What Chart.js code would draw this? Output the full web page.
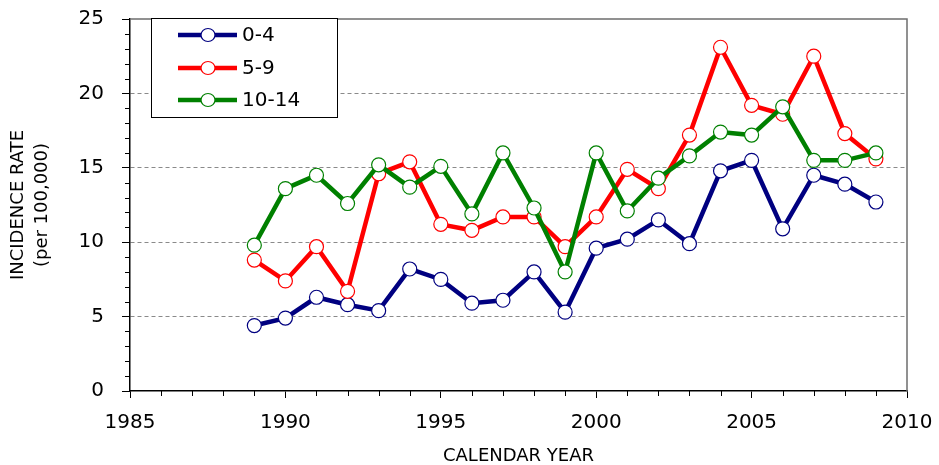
<!DOCTYPE html>
<html><head><meta charset="utf-8">
<script src="https://cdn.jsdelivr.net/npm/chart.js@4.4.1/dist/chart.umd.min.js"></script>
<style>html,body{margin:0;padding:0;background:#fff;}canvas{display:block;}</style>
</head><body>
<canvas id="c" width="939" height="465"></canvas>
<script>
const years = [1989,1990,1991,1992,1993,1994,1995,1996,1997,1998,1999,2000,2001,2002,2003,2004,2005,2006,2007,2008,2009];
const rate0to4 = [4.4,4.9,6.3,5.8,5.4,8.2,7.5,5.9,6.1,8.0,5.3,9.6,10.2,11.5,9.9,14.8,15.5,10.9,14.5,13.9,12.7];
const rate5to9 = [8.8,7.4,9.7,6.7,14.6,15.4,11.2,10.8,11.7,11.7,9.7,11.7,14.9,13.6,17.2,23.1,19.2,18.6,22.5,17.3,15.6];
const rate10to14 = [9.8,13.6,14.5,12.6,15.2,13.7,15.1,11.9,16.0,12.3,8.0,16.0,12.1,14.3,15.8,17.4,17.2,19.1,15.5,15.5,16.0];
const seriesLabels = ['0-4','5-9','10-14'];
const seriesColors = ['#000080','#ff0000','#008000'];
const xTitle = 'CALENDAR YEAR';
const yTitle = ['INCIDENCE RATE','(per 100,000)'];
const FONT = "'DejaVu Sans', sans-serif";

const toPoints = arr => years.map((x,i)=>({x:x,y:arr[i]}));
const seriesValues = [rate0to4, rate5to9, rate10to14];

const datasets = seriesValues.map((arr,i)=>({
  label: seriesLabels[i],
  data: toPoints(arr),
  borderColor: seriesColors[i],
  backgroundColor: '#ffffff',
  borderWidth: 4.5,
  pointRadius: 7,
  pointBorderWidth: 1.2,
  pointBorderColor: seriesColors[i],
  pointBackgroundColor: '#ffffff',
  tension: 0,
  order: 3 - i
}));

const noPad = s => { s.paddingTop = 0; s.paddingBottom = 0; s.paddingLeft = 0; s.paddingRight = 0; };

const extras = {
  id: 'extras',
  beforeDatasetsDraw(chart){
    const {ctx, chartArea:a, scales} = chart;
    ctx.save();
    ctx.strokeStyle = '#6e6e6e'; ctx.lineWidth = 1.5;
    ctx.beginPath();
    ctx.moveTo(a.left, a.top); ctx.lineTo(a.right, a.top); ctx.lineTo(a.right, a.bottom);
    ctx.stroke();
    ctx.strokeStyle = '#000'; ctx.lineWidth = 1;
    const y = scales.y, x = scales.x;
    ctx.beginPath();
    for (let v = y.min; v <= y.max; v++) {
      if (v % 5 === 0) continue;
      const py = Math.round(y.getPixelForValue(v)) + 0.5;
      ctx.moveTo(a.left - 5, py); ctx.lineTo(a.left, py);
    }
    for (let v = x.min; v <= x.max; v++) {
      if (v % 5 === 0) continue;
      const px = Math.round(x.getPixelForValue(v)) + 0.5;
      ctx.moveTo(px, a.bottom); ctx.lineTo(px, a.bottom + 5);
    }
    ctx.stroke();
    ctx.restore();
  },
  afterDraw(chart){
    const {ctx} = chart;
    ctx.save();
    const bx = 151, by = 18, bw = 186, bh = 99;
    ctx.fillStyle = '#fff';
    ctx.fillRect(bx, by, bw, bh);
    ctx.strokeStyle = '#000'; ctx.lineWidth = 1;
    ctx.strokeRect(bx + 0.5, by + 0.5, bw, bh);
    const rows = [35, 68, 100];
    chart.data.datasets.forEach((ds, i) => {
      const ry = rows[i];
      ctx.strokeStyle = ds.borderColor; ctx.lineWidth = 4.5;
      ctx.beginPath(); ctx.moveTo(178, ry); ctx.lineTo(237, ry); ctx.stroke();
      ctx.beginPath(); ctx.ellipse(208, ry, 7, 6.5, 0, 0, Math.PI*2);
      ctx.fillStyle = '#fff'; ctx.fill();
      ctx.lineWidth = 1.2; ctx.strokeStyle = ds.borderColor; ctx.stroke();
      ctx.fillStyle = '#000';
      ctx.font = "20px " + FONT;
      ctx.textBaseline = 'middle'; ctx.textAlign = 'left';
      ctx.fillText(ds.label, 242, ry + 1);
    });
    ctx.restore();
  }
};

new Chart(document.getElementById('c'), {
  type: 'line',
  data: { datasets },
  plugins: [extras],
  options: {
    responsive: false,
    animation: false,
    devicePixelRatio: 1,
    layout: { padding: { top: 19, right: 32, bottom: 0, left: 0 } },
    plugins: { legend: { display: false }, tooltip: { enabled: false } },
    scales: {
      x: {
        type: 'linear', min: 1985, max: 2010,
        afterFit(s){ s.height = 74; noPad(s); },
        ticks: { stepSize: 5, color: '#000', font: { family: FONT, size: 20 }, padding: 13, callback: v => String(v) },
        grid: { drawOnChartArea: false, tickLength: 7, tickColor: '#000', tickWidth: 1 },
        border: { color: '#000', width: 1.5 },
        title: { display: true, text: xTitle, color: '#000', font: { family: FONT, size: 18, lineHeight: 1 }, padding: { top: 0, bottom: 0 } }
      },
      y: {
        min: 0, max: 25,
        afterFit(s){ s.width = 130; noPad(s); },
        ticks: { stepSize: 5, color: '#000', font: { family: FONT, size: 20 }, padding: 18 },
        grid: {
          color: c => (c.tick && (c.tick.value === 0 || c.tick.value === 25)) ? 'rgba(0,0,0,0)' : '#8a8a8a',
          lineWidth: 1, tickLength: 8, tickColor: '#000', tickWidth: 1
        },
        border: { color: '#000', width: 1.5, dash: [4, 3] },
        title: { display: true, text: yTitle, color: '#000', font: { family: FONT, size: 18, lineHeight: 1.3 }, padding: { top: 7, bottom: 0 } }
      }
    }
  }
});
</script>
</body></html>
